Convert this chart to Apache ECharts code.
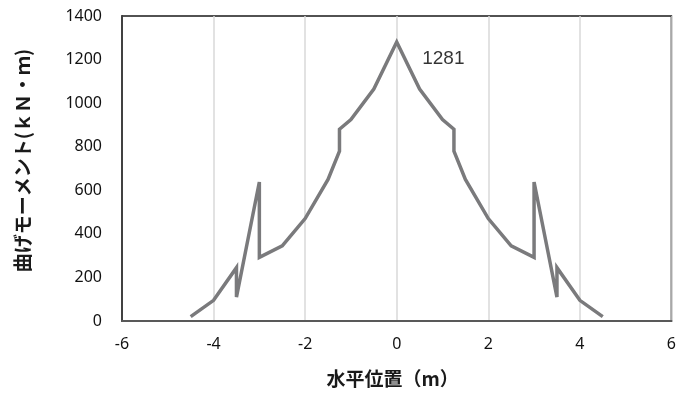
<!DOCTYPE html>
<html>
<head>
<meta charset="utf-8">
<script src="https://cdn.jsdelivr.net/npm/echarts@6/dist/echarts.min.js"></script>
<style>
html,body{margin:0;padding:0;background:#fff;}
#chart{width:679px;height:397px;}
</style>
</head>
<body>
<div id="chart"></div>
<script>
// horizontal position (m)
var positions = [-4.5, -4, -3.5, -3.5, -3, -3, -2.5, -2, -1.5, -1.25, -1.25, -1, -0.5, 0,
                 0.5, 1, 1.25, 1.25, 1.5, 2, 2.5, 3, 3, 3.5, 3.5, 4, 4.5];
// bending moment (kN·m)
var moments = [20, 95, 245, 110, 638, 292, 345, 470, 650, 780, 880, 925, 1065, 1281,
               1065, 925, 880, 780, 650, 470, 345, 292, 638, 110, 245, 95, 20];
var peakPoint = [0, 1281];
var xTicks = [-6, -4, -2, 0, 2, 4, 6];
var yTicks = [0, 200, 400, 600, 800, 1000, 1200, 1400];

var lineData = positions.map(function (x, i) { return [x, moments[i]]; });

var chart = echarts.init(document.getElementById('chart'), null, {renderer: 'canvas'});
chart.setOption({
  animation: false,
  backgroundColor: '#ffffff',
  grid: {left: 122, right: 7, top: 16, bottom: 76, show: true, borderColor: '#1a1a1a', borderWidth: 1.5, containLabel: false},
  xAxis: {
    type: 'value',
    min: xTicks[0], max: xTicks[xTicks.length - 1], interval: 2,
    name: '水平位置（m）', nameLocation: 'middle', nameGap: 48,
    nameTextStyle: {fontFamily: 'Noto Sans CJK JP', fontWeight: 'bold', fontSize: 19, color: '#1a1a1a', padding: [0, 8, 0, 0]},
    axisLine: {show: true, onZero: false, lineStyle: {color: '#595959', width: 2}},
    axisTick: {show: false},
    axisLabel: {margin: 15, fontFamily: 'Noto Sans', fontSize: 16, color: '#111'},
    splitLine: {show: true, lineStyle: {color: '#d9d9d9', width: 1.5}}
  },
  yAxis: {
    type: 'value',
    min: yTicks[0], max: yTicks[yTicks.length - 1], interval: 200,
    name: '曲げモーメント(ｋＮ・ｍ)', nameLocation: 'middle', nameGap: 90, nameRotate: 90,
    nameTextStyle: {fontFamily: 'Noto Sans CJK JP', fontWeight: 'bold', fontSize: 19, color: '#1a1a1a', padding: [0, 0, 0, 16]},
    axisLine: {show: true, onZero: false, lineStyle: {color: '#1a1a1a', width: 1.5}},
    axisTick: {show: false},
    axisLabel: {margin: 20, fontFamily: 'Noto Sans', fontSize: 16, color: '#111',
      formatter: function (v) { return String(v); }},
    splitLine: {show: false}
  },
  series: [
    {
      type: 'line',
      data: lineData,
      showSymbol: false,
      symbol: 'none',
      lineStyle: {color: '#7a7a7c', width: 3.5, join: 'miter'},
      z: 3
    },
    {
      type: 'scatter',
      data: [peakPoint],
      symbolSize: 1,
      itemStyle: {color: 'rgba(0,0,0,0)'},
      label: {
        show: true, position: 'right', distance: 25, offset: [0, 17],
        formatter: function (p) { return String(p.value[1]); },
        fontFamily: 'Liberation Sans', fontSize: 19, color: '#000000'
      },
      z: 4
    }
  ]
});
</script>
</body>
</html>
